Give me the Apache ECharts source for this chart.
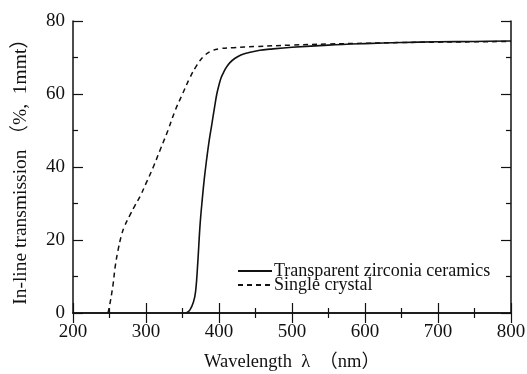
<!DOCTYPE html>
<html>
<head>
<meta charset="utf-8">
<script src="https://cdn.jsdelivr.net/npm/echarts@6/dist/echarts.min.js"></script>
<style>
  html, body {margin: 0; padding: 0; background: #fff;}
  #chart {width: 527px; height: 374px;}
</style>
</head>
<body>
<div id="chart"></div>
<script>
// wavelength (nm) / in-line transmission (%)
const ceramicsX = [355, 360, 365, 368, 371, 374, 377, 380, 383, 386, 390, 394, 397, 400, 403, 406, 410, 415, 422, 430, 440, 456, 470, 500, 550, 600, 650, 700, 750, 800];
const ceramicsY = [0, 0.8, 3, 6, 14, 24, 31, 37, 42, 46.5, 51.5, 56.5, 60, 62.5, 64.5, 65.8, 67.3, 68.6, 69.8, 70.7, 71.3, 72.0, 72.3, 72.8, 73.4, 73.8, 74.1, 74.3, 74.4, 74.5];
const crystalX = [248, 251, 255, 258, 262, 266, 270, 278, 285, 292, 300, 310, 320, 330, 340, 350, 360, 370, 380, 390, 400, 420, 450, 500, 550, 600, 650, 700, 750, 800];
const crystalY = [0, 3, 8, 13, 17.5, 21, 23.5, 26.8, 29.5, 32, 35.5, 40, 45, 50, 55.5, 60, 64.4, 68, 70.5, 71.8, 72.4, 72.7, 73, 73.4, 73.7, 73.9, 74.1, 74.2, 74.3, 74.4];
const xTicks = [200, 800, 100];
const yTicks = [0, 80, 20];
const names = ['Transparent zirconia ceramics', 'Single crystal'];

const pairs = (xs, ys) => xs.map((x, i) => [x, ys[i]]);
const font = "'Liberation Serif', 'Noto Sans CJK SC', serif";

const chart = echarts.init(document.getElementById('chart'));

const axisCommon = {
    axisLine: {lineStyle: {color: '#111', width: 1.5}},
    axisTick: {inside: true, length: 10, lineStyle: {color: '#111', width: 1.2}},
    minorTick: {show: true, splitNumber: 2, length: 5, lineStyle: {color: '#111', width: 1.2}},
    splitLine: {show: false},
    minorSplitLine: {show: false}
};

const legendFor = (name, top) => ({
    orient: 'vertical',
    left: 237,
    top: top,
    padding: 0,
    itemWidth: 34,
    itemHeight: 12,
    data: [name],
    itemStyle: {opacity: 0},
    textStyle: {fontFamily: font, fontSize: 18, color: '#111', padding: [0, 0, 0, -3]}
});

chart.setOption({
    animation: false,
    grid: {left: 73, right: 16, top: 21, bottom: 61, outerBoundsMode: 'none'},
    legend: [legendFor(names[0], 262), legendFor(names[1], 276)],
    xAxis: [
        Object.assign({
            type: 'value', min: xTicks[0], max: xTicks[1], interval: xTicks[2],
            position: 'bottom',
            name: 'Wavelength  λ  （nm）',
            nameLocation: 'middle',
            nameGap: 40,
            nameTextStyle: {fontFamily: font, fontSize: 18.5, color: '#111'},
            axisLabel: {fontFamily: font, fontSize: 19, color: '#111', margin: 10}
        }, axisCommon),
        Object.assign({
            type: 'value', min: xTicks[0], max: xTicks[1], interval: xTicks[2],
            position: 'top',
            axisLabel: {show: false}
        }, axisCommon)
    ],
    yAxis: [
        Object.assign({
            type: 'value', min: yTicks[0], max: yTicks[1], interval: yTicks[2],
            position: 'left',
            name: 'In-line transmission （%,  1mmt）',
            nameLocation: 'middle',
            nameGap: 42,
            nameTextStyle: {fontFamily: font, fontSize: 19.5, color: '#111'},
            axisLabel: {fontFamily: font, fontSize: 19, color: '#111', margin: 8}
        }, axisCommon),
        Object.assign({
            type: 'value', min: yTicks[0], max: yTicks[1], interval: yTicks[2],
            position: 'right',
            axisLabel: {show: false}
        }, axisCommon)
    ],
    series: [
        {
            name: names[0],
            type: 'line',
            symbol: 'none',
            smooth: 0.4,
            data: pairs(ceramicsX, ceramicsY),
            itemStyle: {color: '#111'},
            lineStyle: {color: '#111', width: 1.6}
        },
        {
            name: names[1],
            type: 'line',
            symbol: 'none',
            smooth: 0.4,
            data: pairs(crystalX, crystalY),
            itemStyle: {color: '#111'},
            lineStyle: {color: '#111', width: 1.5, type: [5, 4]}
        }
    ]
});
</script>
</body>
</html>
